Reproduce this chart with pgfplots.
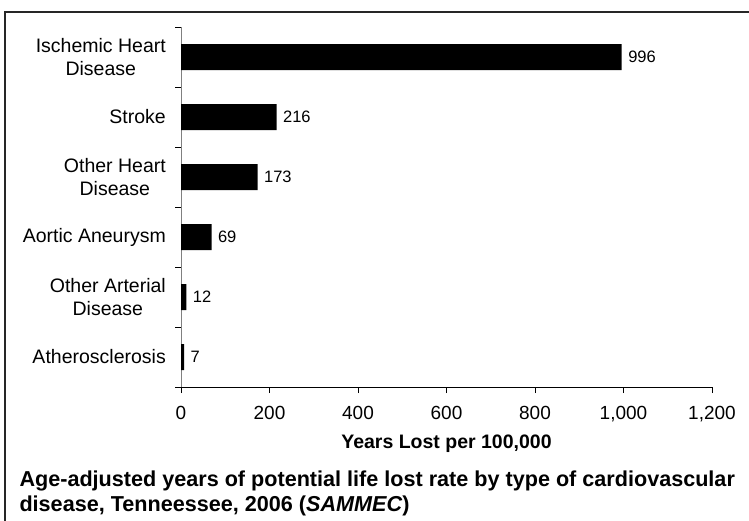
\documentclass[border=0pt]{standalone}
\usepackage{pgfplots}
\pgfplotsset{compat=1.18}
\usepackage{fontspec}
\setmainfont{Liberation Sans}
\begin{document}
\begin{tikzpicture}[x=1pt,y=1pt]
\begin{axis}[
  at={(181pt,-387pt)}, anchor=south west,
  scale only axis, width=531pt, height=360pt,
  xbar, bar width=26pt,
  xmin=0, xmax=1200, ymin=-0.5, ymax=5.5,
  axis x line*=bottom, axis y line*=left,
  x axis line style={black, line width=1pt, -},
  y axis line style={gray, line width=1pt, -},
  xtick={0,200,...,1200},
  tick align=outside, major tick length=6pt,
  tick style={black, line width=0.9pt},
  ytick={0,...,5},
  yticklabels={Atherosclerosis, {Other Arterial\\Disease}, Aortic Aneurysm, {Other Heart\\Disease}, Stroke, {Ischemic Heart\\Disease}},
  y tick style={draw=none},
  extra y ticks={-0.5,0.5,1.5,2.5,3.5,4.5,5.5},
  extra y tick labels={},
  extra y tick style={y tick style={draw=black}},
  yticklabel style={align=center, font=\fontsize{19.5}{23}\selectfont, inner sep=0pt, xshift=-9pt},
  xticklabel style={font=\fontsize{19}{22}\selectfont, yshift=-10pt},
  /pgf/number format/assume math mode=true,
  /pgf/number format/1000 sep={,},
  scaled x ticks=false,
  xlabel={Years Lost per 100,000},
  xlabel style={font=\fontsize{19.5}{23}\selectfont\bfseries, anchor=center, at={(axis description cs:0.5,0)}, yshift=-57pt},
  nodes near coords,
  nodes near coords style={font=\fontsize{16.5}{20}\selectfont, anchor=west, xshift=3pt},
  point meta=explicit symbolic,
  clip=false,
]
\addplot[fill=black, draw=none] coordinates {
  (7,0) [7]
  (12,1) [12]
  (69,2) [69]
  (173,3) [173]
  (216,4) [216]
  (996,5) [996]
};
\end{axis}
\node[anchor=base west, font=\fontsize{21.6}{26}\selectfont\bfseries] at (16,-486) {Age-adjusted years of potential life lost rate by type of cardiovascular};
\node[anchor=base west, font=\fontsize{21.6}{26}\selectfont\bfseries] at (16,-511) {disease, Tenneessee, 2006 (\textit{SAMMEC})};
\draw[line width=1.5pt, draw=black!85] (5,-540) -- (5,-12) -- (770,-12);
\pgfresetboundingbox
\useasboundingbox (0,0) rectangle (749,-520);
\end{tikzpicture}
\end{document}
